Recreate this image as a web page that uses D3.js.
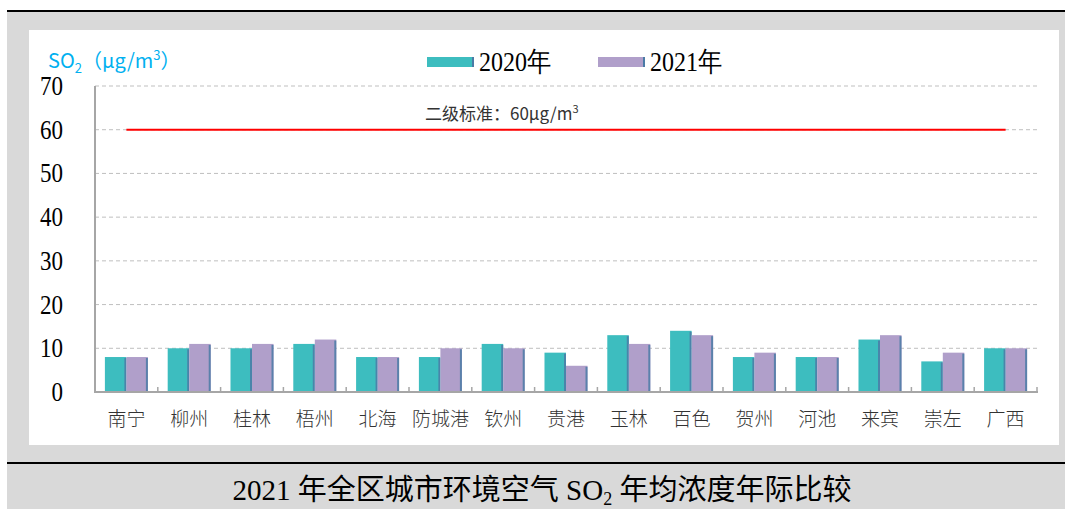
<!DOCTYPE html>
<html>
<head>
<meta charset="utf-8">
<script src="https://cdn.jsdelivr.net/npm/d3@7"></script>
<style>
  body { margin: 0; background: #fff; }
  svg { display: block; }
</style>
</head>
<body>
<div id="chart"></div>
<script>
// data
var cities = ["南宁", "柳州", "桂林", "梧州", "北海", "防城港", "钦州", "贵港", "玉林", "百色", "贺州", "河池", "来宾", "崇左", "广西"];
var series = ["2020年", "2021年"];
var values2020 = [8, 10, 10, 11, 8, 8, 11, 9, 13, 14, 8, 8, 12, 7, 10];
var values2021 = [8, 11, 11, 12, 8, 10, 10, 6, 11, 13, 9, 8, 13, 9, 10];
var yTicks = [0, 10, 20, 30, 40, 50, 60, 70];
var standard = 60;

var colors = { "2020年": "#3DBDBF", "2021年": "#B09FCA" };
var edge = "#4B7BA6";
var serif = "'Liberation Serif', 'Times New Roman', serif";
var sans = "'Noto Sans CJK SC', sans-serif";

var svgWidth = 1065;
var svgHeight = 512;

var svg = d3.select("#chart")
  .append("svg")
  .attr("width", svgWidth)
  .attr("height", svgHeight);

// frame: gray background, white panel, black rules
svg.append("rect").attr("x", 7).attr("y", 11).attr("width", 1058).attr("height", 498).attr("fill", "#D9D9D9");
svg.append("rect").attr("x", 29).attr("y", 30).attr("width", 1030).attr("height", 415).attr("fill", "#fff");
svg.append("rect").attr("x", 7).attr("y", 10).attr("width", 1058).attr("height", 2).attr("fill", "#000");
svg.append("rect").attr("x", 7).attr("y", 462).attr("width", 1058).attr("height", 2).attr("fill", "#000");

// scales
var x0 = d3.scaleBand().domain(cities).range([95, 1037]).padding(0);
var x1 = d3.scaleBand().domain(series).range([0, x0.bandwidth()]).paddingInner(0).paddingOuter(0.46);
var y = d3.scaleLinear().domain([0, 70]).range([392, 86]);

// gridlines
svg.append("g")
  .selectAll("line")
  .data(yTicks.filter(d => d > 0))
  .enter()
  .append("line")
  .attr("x1", 95)
  .attr("x2", 1037)
  .attr("y1", d => y(d))
  .attr("y2", d => y(d))
  .attr("stroke", "#BFBFBF")
  .attr("stroke-width", 1)
  .attr("stroke-dasharray", "4,3");

// y tick labels (a bit tall, like the original)
svg.append("g")
  .selectAll("text")
  .data(yTicks)
  .enter()
  .append("text")
  .attr("transform", d => `translate(63, ${y(d) + 9}) scale(1, 1.2)`)
  .attr("text-anchor", "end")
  .attr("font-family", serif)
  .attr("font-size", 23)
  .attr("fill", "#000")
  .text(d => d);

// bars
var rows = cities.map((c, i) => ({ city: c, "2020年": values2020[i], "2021年": values2021[i] }));

var groups = svg.append("g")
  .selectAll("g")
  .data(rows)
  .enter()
  .append("g")
  .attr("transform", d => `translate(${x0(d.city)},0)`);

series.forEach(function(s) {
  groups.append("rect")
    .attr("x", x1(s))
    .attr("y", d => y(d[s]))
    .attr("width", x1.bandwidth())
    .attr("height", d => y(0) - y(d[s]))
    .attr("fill", colors[s]);
  // darker right edge (the 3d side)
  groups.append("rect")
    .attr("x", x1(s) + x1.bandwidth() - 2)
    .attr("y", d => y(d[s]) + 1)
    .attr("width", 2)
    .attr("height", d => y(0) - y(d[s]) - 1)
    .attr("fill", edge)
    .attr("opacity", 0.85);
});

// axes lines
svg.append("line").attr("x1", 95).attr("x2", 95).attr("y1", 86).attr("y2", 393)
  .attr("stroke", "#A6A6A6").attr("stroke-width", 2);
svg.append("line").attr("x1", 94).attr("x2", 1038).attr("y1", 392).attr("y2", 392)
  .attr("stroke", "#A6A6A6").attr("stroke-width", 2);

// category ticks (pointing up)
var bounds = cities.map(c => x0(c)).concat([x0.range()[1]]);
svg.append("g")
  .selectAll("line")
  .data(bounds.slice(1))
  .enter()
  .append("line")
  .attr("x1", d => d)
  .attr("x2", d => d)
  .attr("y1", 392)
  .attr("y2", 387)
  .attr("stroke", "#A6A6A6")
  .attr("stroke-width", 1.5);

// x labels
svg.append("g")
  .selectAll("text")
  .data(cities)
  .enter()
  .append("text")
  .attr("x", d => x0(d) + x0.bandwidth() / 2)
  .attr("y", 426)
  .attr("text-anchor", "middle")
  .attr("font-family", sans)
  .attr("font-weight", 300)
  .attr("font-size", 19)
  .attr("fill", "#333")
  .text(d => d);

// standard line
svg.append("line")
  .attr("x1", x0(cities[0]) + x0.bandwidth() / 2)
  .attr("x2", x0(cities[cities.length - 1]) + x0.bandwidth() / 2)
  .attr("y1", y(standard))
  .attr("y2", y(standard))
  .attr("stroke", "#FF0000")
  .attr("stroke-width", 2);

var stdLabel = svg.append("text")
  .attr("x", 425)
  .attr("y", 120)
  .attr("font-family", sans)
  .attr("font-size", 17)
  .attr("fill", "#333");
stdLabel.append("tspan").text("二级标准：" + standard + "μg/m");
stdLabel.append("tspan").attr("dy", -7).attr("font-size", 11).text("3");

// y axis title
var yTitle = svg.append("text")
  .attr("x", 48)
  .attr("y", 68)
  .attr("font-family", sans)
  .attr("font-size", 20)
  .attr("fill", "#00B0F0");
yTitle.append("tspan").text("SO");
yTitle.append("tspan").attr("dy", 5).attr("font-size", 13).text("2");
yTitle.append("tspan").attr("dy", -5).text("（μg/m");
yTitle.append("tspan").attr("dy", -8).attr("font-size", 13).text("3");
yTitle.append("tspan").attr("dy", 8).text("）");

// legend
var legendX = [427, 598];
series.forEach(function(s, i) {
  svg.append("rect")
    .attr("x", legendX[i])
    .attr("y", 57)
    .attr("width", 47)
    .attr("height", 10)
    .attr("fill", colors[s]);
  svg.append("rect")
    .attr("x", legendX[i] + 45)
    .attr("y", 57)
    .attr("width", 2)
    .attr("height", 10)
    .attr("fill", edge);
  svg.append("text")
    .attr("transform", `translate(${legendX[i] + 52}, 71) scale(1, 1.15)`)
    .attr("font-family", serif)
    .attr("font-size", 24)
    .attr("fill", "#000")
    .text(s);
});

// bottom caption
var caption = svg.append("text")
  .attr("x", 542)
  .attr("y", 500)
  .attr("text-anchor", "middle")
  .attr("font-family", "'Liberation Serif', 'Noto Sans CJK SC', serif")
  .attr("font-size", 29)
  .attr("fill", "#000");
caption.append("tspan").text("2021 年全区城市环境空气 SO");
caption.append("tspan").attr("dy", 5).attr("font-size", 18).text("2");
caption.append("tspan").attr("dy", -5).text(" 年均浓度年际比较");
</script>
</body>
</html>
